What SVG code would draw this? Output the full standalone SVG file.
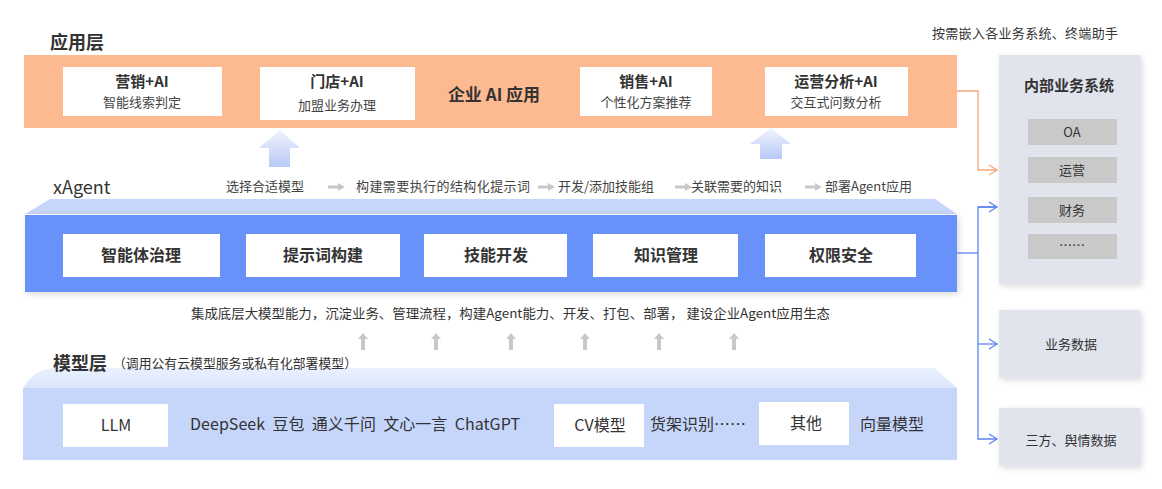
<svg xmlns="http://www.w3.org/2000/svg" width="1162" height="489" viewBox="0 0 1162 489">
<defs>
<style>
text{font-family:"Noto Sans CJK SC","Noto Sans",sans-serif;fill:#333}
.h{font-size:18px;font-weight:bold;fill:#333}
.t1{font-size:15px;font-weight:bold;text-anchor:middle;fill:#333}
.t2{font-size:13px;text-anchor:middle;fill:#444}
.ag{font-size:16px;font-weight:bold;text-anchor:middle;fill:#333}
.fl{font-size:13px;fill:#444}
.md{font-size:16px;fill:#333}
.sys{font-size:13px;text-anchor:middle;fill:#333}
.wb{fill:#fff}
.gb{fill:#c9c9c9}
.panel{fill:#e1e4ec}
</style>
<linearGradient id="bigArrow" x1="0" y1="0" x2="0" y2="1">
<stop offset="0" stop-color="#f1f4fe"/>
<stop offset="1" stop-color="#b8c8f7"/>
</linearGradient>
<linearGradient id="topModel" x1="0" y1="0" x2="0" y2="1">
<stop offset="0" stop-color="#eaf0fd"/>
<stop offset="1" stop-color="#dce6fc"/>
</linearGradient>
<filter id="sh" x="-10%" y="-10%" width="125%" height="125%">
<feDropShadow dx="2" dy="2" stdDeviation="3" flood-color="#000" flood-opacity="0.15"/>
</filter>
<marker id="arrO" markerWidth="12" markerHeight="12" refX="10" refY="6" orient="auto" markerUnits="userSpaceOnUse">
<path d="M2,1 L10,6 L2,11" fill="none" stroke="#f5a77a" stroke-width="1.3"/>
</marker>
<marker id="arrB" markerWidth="12" markerHeight="12" refX="10" refY="6" orient="auto" markerUnits="userSpaceOnUse">
<path d="M2,1 L10,6 L2,11" fill="none" stroke="#5b84f0" stroke-width="1.3"/>
</marker>
<g id="smallArrow">
<path d="M0,-9 L-5,-3 L-2,-3 L-2,8 L2,8 L2,-3 L5,-3 Z" fill="#c8c8c8"/>
</g>
<g id="flowArrow">
<path d="M0,-1.5 L10,-1.5 L10,-4 L17,0 L10,4 L10,1.5 L0,1.5 Z" fill="#c8c8c8"/>
</g>
</defs>
<rect width="1162" height="489" fill="#fff"/>

<!-- Application layer -->
<g id="app-layer">
<text class="h" x="50" y="49">应用层</text>
<rect x="24" y="55" width="933" height="73" fill="#fdb990"/>
<text x="494" y="101" font-size="17" font-weight="bold" text-anchor="middle" fill="#333">企业 AI 应用</text>
</g>
<g id="app-marketing">
<rect class="wb" x="63" y="67" width="159" height="49"/>
<text class="t1" x="142" y="87">营销+AI</text>
<text class="t2" x="142" y="107">智能线索判定</text>
</g>
<g id="app-store">
<rect class="wb" x="260" y="67" width="155" height="53"/>
<text class="t1" x="337" y="87">门店+AI</text>
<text class="t2" x="337" y="110">加盟业务办理</text>
</g>
<g id="app-sales">
<rect class="wb" x="580" y="67" width="132" height="49"/>
<text class="t1" x="646" y="87">销售+AI</text>
<text class="t2" x="646" y="107">个性化方案推荐</text>
</g>
<g id="app-ops">
<rect class="wb" x="765" y="67" width="143" height="49"/>
<text class="t1" x="836" y="87">运营分析+AI</text>
<text class="t2" x="836" y="107">交互式问数分析</text>
</g>

<!-- big arrows -->
<g id="big-arrows">
<path d="M280,130 L300,148 L290,148 L290,167 L269,167 L269,148 L259,148 Z" fill="url(#bigArrow)"/>
<path d="M771,128 L791,144 L782,144 L782,159 L760,159 L760,144 L750,144 Z" fill="url(#bigArrow)"/>
</g>

<!-- xAgent layer -->
<g id="xagent-layer">
<text x="53" y="194" font-size="18" fill="#333">xAgent</text>
<text class="fl" x="226" y="191">选择合适模型</text>
<use href="#flowArrow" x="328" y="187"/>
<text class="fl" x="356" y="191" textLength="174">构建需要执行的结构化提示词</text>
<use href="#flowArrow" x="538" y="187"/>
<text class="fl" x="558" y="191">开发/添加技能组</text>
<use href="#flowArrow" x="675" y="187"/>
<text class="fl" x="691" y="191">关联需要的知识</text>
<use href="#flowArrow" x="805" y="187"/>
<text class="fl" x="825" y="191">部署Agent应用</text>
<path d="M25,214 L50,199 L935,199 L957,214 Z" fill="#c6d5fb"/>
<rect x="25" y="215" width="932" height="77" fill="#6791fa" filter="url(#sh)"/>
</g>
<g id="ag-governance"><rect class="wb" x="63" y="234" width="157" height="43"/><text class="ag" x="141" y="261">智能体治理</text></g>
<g id="ag-prompt"><rect class="wb" x="246" y="234" width="154" height="43"/><text class="ag" x="323" y="261">提示词构建</text></g>
<g id="ag-skill"><rect class="wb" x="424" y="234" width="143" height="43"/><text class="ag" x="496" y="261">技能开发</text></g>
<g id="ag-knowledge"><rect class="wb" x="593" y="234" width="145" height="43"/><text class="ag" x="666" y="261">知识管理</text></g>
<g id="ag-security"><rect class="wb" x="765" y="234" width="151" height="43"/><text class="ag" x="841" y="261">权限安全</text></g>

<!-- middle description -->
<g id="integration">
<text x="191" y="318" font-size="13" fill="#444" textLength="639" lengthAdjust="spacingAndGlyphs">集成底层大模型能力，沉淀业务、管理流程，构建Agent能力、开发、打包、部署， 建设企业Agent应用生态</text>
<use href="#smallArrow" x="363" y="342"/>
<use href="#smallArrow" x="436" y="342"/>
<use href="#smallArrow" x="511" y="342"/>
<use href="#smallArrow" x="585" y="342"/>
<use href="#smallArrow" x="659" y="342"/>
<use href="#smallArrow" x="734" y="342"/>
</g>

<!-- Model layer -->
<g id="model-layer">
<path d="M23,388 C30,376 40,368 55,368 L935,368 L957,388 Z" fill="url(#topModel)"/>
<rect x="23" y="388" width="934" height="72" fill="#c6d6fb"/>
<text class="h" x="53" y="370">模型层</text>
<text x="113" y="368" font-size="13" fill="#444" textLength="244" lengthAdjust="spacingAndGlyphs">（调用公有云模型服务或私有化部署模型）</text>
<text class="md" x="190" y="430" xml:space="preserve" textLength="330">DeepSeek  豆包  通义千问  文心一言  ChatGPT</text>
<text class="md" x="650" y="430">货架识别……</text>
<text class="md" x="860" y="430">向量模型</text>
</g>
<g id="m-llm"><rect class="wb" x="63" y="404" width="105" height="43"/><text x="116" y="431" font-size="16" text-anchor="middle" fill="#333">LLM</text></g>
<g id="m-cv"><rect class="wb" x="554" y="404" width="90" height="43"/><text x="600" y="431" font-size="16" text-anchor="middle" fill="#333">CV模型</text></g>
<g id="m-other"><rect class="wb" x="759" y="402" width="90" height="43"/><text x="806" y="429" font-size="16" text-anchor="middle" fill="#333">其他</text></g>

<!-- right side -->
<text x="932" y="38" font-size="13" fill="#333" textLength="186">按需嵌入各业务系统、终端助手</text>
<g id="internal-systems">
<rect class="panel" x="999" y="55" width="141" height="229" filter="url(#sh)"/>
<text x="1069" y="91" font-size="15" font-weight="bold" text-anchor="middle" fill="#333">内部业务系统</text>
<rect class="gb" x="1028" y="119" width="89" height="26"/><text class="sys" x="1072" y="137">OA</text>
<rect class="gb" x="1028" y="157" width="89" height="26"/><text class="sys" x="1072" y="175">运营</text>
<rect class="gb" x="1028" y="197" width="89" height="26"/><text class="sys" x="1072" y="215">财务</text>
<rect class="gb" x="1028" y="234" width="89" height="25"/><text class="sys" x="1072" y="250">……</text>
</g>
<g id="business-data">
<rect class="panel" x="999" y="310" width="141" height="68" filter="url(#sh)"/>
<text class="sys" x="1071" y="349">业务数据</text>
</g>
<g id="third-party-data">
<rect class="panel" x="999" y="408" width="141" height="58" filter="url(#sh)"/>
<text class="sys" x="1071" y="445">三方、舆情数据</text>
</g>

<!-- connectors -->
<g id="connectors" fill="none" stroke-width="1.3">
<path d="M957,91 L978,91 L978,170 L997,170" stroke="#f5a77a" marker-end="url(#arrO)"/>
<path d="M957,253 L978,253" stroke="#5b84f0"/>
<path d="M997,207 L978,207 L978,439 L997,439" stroke="#5b84f0" marker-end="url(#arrB)"/>
<path d="M978,207 L997,207" stroke="#5b84f0" marker-end="url(#arrB)"/>
<path d="M978,344 L997,344" stroke="#5b84f0" marker-end="url(#arrB)"/>
</g>
</svg>
